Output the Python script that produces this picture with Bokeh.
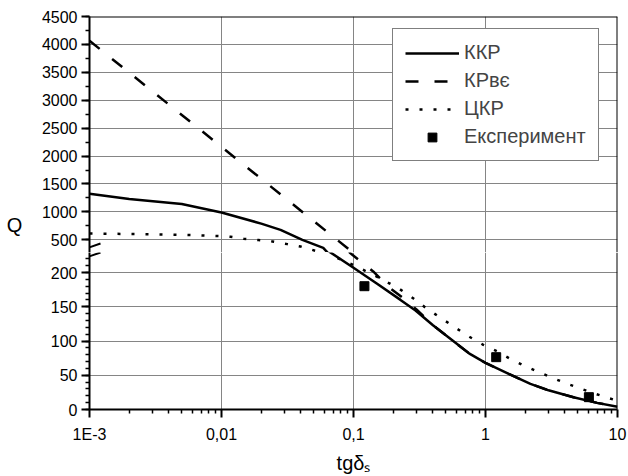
from bokeh.plotting import figure
from bokeh.layouts import column, row
from bokeh.models import Range1d, SingleIntervalTicker, FixedTicker, Span, Arrow
from bokeh.core.properties import value
from bokeh.embed import file_html
from bokeh.resources import INLINE

# ---- data ----
kkr_x = [0.001, 0.002, 0.005, 0.01, 0.02, 0.028, 0.041, 0.059, 0.066, 0.1, 0.15, 0.227, 0.295,
         0.4, 0.56, 0.75, 1.0, 1.5, 2.19, 3.0, 4.64, 7.0, 10.0]
kkr_q = [1325, 1230, 1140, 990, 790, 679, 500, 357, 230, 207, 184, 160, 144.5,
         123, 101, 82, 68, 52, 37.5, 28, 18, 9.7, 4]

krve_x = [0.001, 0.01, 0.05, 0.0916, 0.0935, 0.119, 0.141, 0.16, 0.19, 0.24, 0.3,
          0.4, 0.56, 0.75, 1.0, 1.5, 2.19, 3.0, 4.64, 7.0, 10.0]
krve_q = [4066, 2165, 836, 336, 229, 213, 201.5, 191, 177, 162, 146,
          123, 101, 82, 68, 52, 37.5, 28, 18, 9.7, 4]

ckr_x = [0.001, 0.003, 0.006, 0.01, 0.0117, 0.0147, 0.019, 0.0243, 0.0316, 0.0397, 0.052, 0.066,
         0.1, 0.15, 0.219, 0.283, 0.361, 0.456, 0.585, 0.748, 0.962, 1.23, 1.57, 2.01, 2.54,
         3.26, 4.16, 5.31, 6.81, 8.59, 10.0]
ckr_q = [612, 600, 585, 565, 554, 518, 495, 470, 423, 380, 300, 226,
         211, 194, 177, 162.5, 147, 134, 120, 106.6, 94.4, 84.7, 73, 63.2, 54.5,
         45.7, 37.5, 30.2, 22.9, 16.5, 13]

exp_x = [0.121, 1.205, 6.07]
exp_q = [180, 76.4, 18]

series_names = ["ККР", "КРвє", "ЦКР", "Експеримент"]
y_title = "Q"
x_title = "tgδₛ"

x_ticks = [0.001, 0.01, 0.1, 1.0, 10.0]
x_tick_labels = ["1E-3", "0,01", "0,1", "1", "10"]
x_minor = [m * d for d in [0.001, 0.01, 0.1, 1.0] for m in range(2, 10)]

upper_range = (273, 4500)
lower_range = (0, 229.2)

FONT = "Liberation Sans"
TOTAL_W, TOTAL_H = 628, 476
QW = 30
W = TOTAL_W - QW
LEFT, RIGHT = 89 - QW, 11
TOP, UP_FRAME, LOW_FRAME, BOTTOM = 16, 236, 157, 67
GRID = "#858585"


def make_fig(yr, height, top, bottom, with_x):
    p = figure(width=W, height=height, x_axis_type="log",
               x_range=Range1d(1e-3, 10), y_range=Range1d(*yr),
               x_axis_location="below" if with_x else None,
               output_backend="svg", toolbar_location=None, title=None,
               min_border_left=LEFT, min_border_right=RIGHT,
               min_border_top=top, min_border_bottom=bottom)
    p.outline_line_color = None
    p.xgrid.ticker = FixedTicker(ticks=x_ticks)
    p.xgrid.grid_line_color = GRID
    p.ygrid.grid_line_color = GRID
    p.xgrid.grid_line_width = 1
    p.ygrid.grid_line_width = 1
    for ax in p.yaxis:
        ax.axis_line_width = 2
        ax.major_tick_in = 0
        ax.major_tick_out = 8
        ax.minor_tick_in = 0
        ax.minor_tick_out = 4
        ax.major_tick_line_width = 2
        ax.minor_tick_line_width = 1.5
        ax.major_label_text_font = FONT
        ax.major_label_text_font_size = "16px"
        ax.major_label_text_color = "black"
        ax.major_label_standoff = 4
    p.add_layout(Span(location=10, dimension="height", line_color="black", line_width=2))
    return p


def draw(p, legend):
    kw = lambda i: dict(legend_label=series_names[i]) if legend else {}
    p.line(kkr_x, kkr_q, line_color="black", line_width=2.5, **kw(0))
    p.line(krve_x, krve_q, line_color="black", line_width=2.5, line_dash="13 16", **kw(1))
    p.line(ckr_x, ckr_q, line_color="black", line_width=2.5, line_dash="3 11", **kw(2))
    p.scatter(exp_x, exp_q, marker="square", size=9, fill_color="black", line_color="black", **kw(3))


# ---- upper panel ----
up = make_fig(upper_range, TOP + UP_FRAME, TOP, 0, False)
up.yaxis.ticker = SingleIntervalTicker(interval=500, num_minor_ticks=2)
up.add_layout(Span(location=4500, dimension="width", line_color="black", line_width=2))
draw(up, True)

lg = up.legend[0]
lg.location = (303, 91)
lg.label_text_font = FONT
lg.label_text_font_size = "20px"
lg.glyph_width = 54
lg.glyph_height = 22
lg.label_height = 22
lg.label_standoff = 5
lg.spacing = 5
lg.padding = 12
lg.margin = 0
lg.border_line_color = "black"
lg.border_line_width = 1
lg.background_fill_alpha = 1

up.add_layout(Arrow(end=None, x_start=-9, y_start=2, x_end=11, y_end=9,
                    start_units="screen", end_units="screen",
                    line_color="black", line_width=2))

# ---- lower panel ----
lo = make_fig(lower_range, LOW_FRAME + BOTTOM, 0, BOTTOM, True)
lo.yaxis.ticker = SingleIntervalTicker(interval=50, num_minor_ticks=5)
lo.xaxis.ticker = FixedTicker(ticks=x_ticks, minor_ticks=x_minor)
lo.xaxis.major_label_overrides = dict(zip(x_ticks, x_tick_labels))
xa = lo.xaxis[0]
xa.axis_line_width = 2
xa.major_tick_in = 0
xa.major_tick_out = 8
xa.minor_tick_in = 0
xa.minor_tick_out = 4
xa.major_tick_line_width = 2
xa.minor_tick_line_width = 1.5
xa.major_label_text_font = FONT
xa.major_label_text_font_size = "16px"
xa.major_label_text_color = "black"
xa.major_label_standoff = 8
xa.axis_label = x_title
xa.axis_label_text_font = FONT
xa.axis_label_text_font_size = "20px"
xa.axis_label_text_font_style = "normal"
xa.axis_label_text_color = "black"
xa.axis_label_standoff = 6
draw(lo, False)
lo.add_layout(Arrow(end=None, x_start=-9, y_start=150, x_end=11, y_end=157,
                    start_units="screen", end_units="screen",
                    line_color="black", line_width=2))

# ---- narrow strip on the left holding the vertical-axis title ----
qf = figure(width=QW, height=TOTAL_H, x_range=Range1d(0, QW), y_range=Range1d(0, TOTAL_H),
            output_backend="svg", toolbar_location=None, title=None,
            x_axis_location=None, y_axis_location=None, min_border=0)
qf.outline_line_color = None
qf.grid.visible = False
qf.text(x=[14], y=[TOTAL_H - 224], text=[y_title], text_align="center",
        text_baseline="middle", text_font=value(FONT), text_font_size="20px",
        text_color="black")

layout = row(qf, column(up, lo, spacing=0), spacing=0)
open("out.html", "w").write(file_html(layout, INLINE))
